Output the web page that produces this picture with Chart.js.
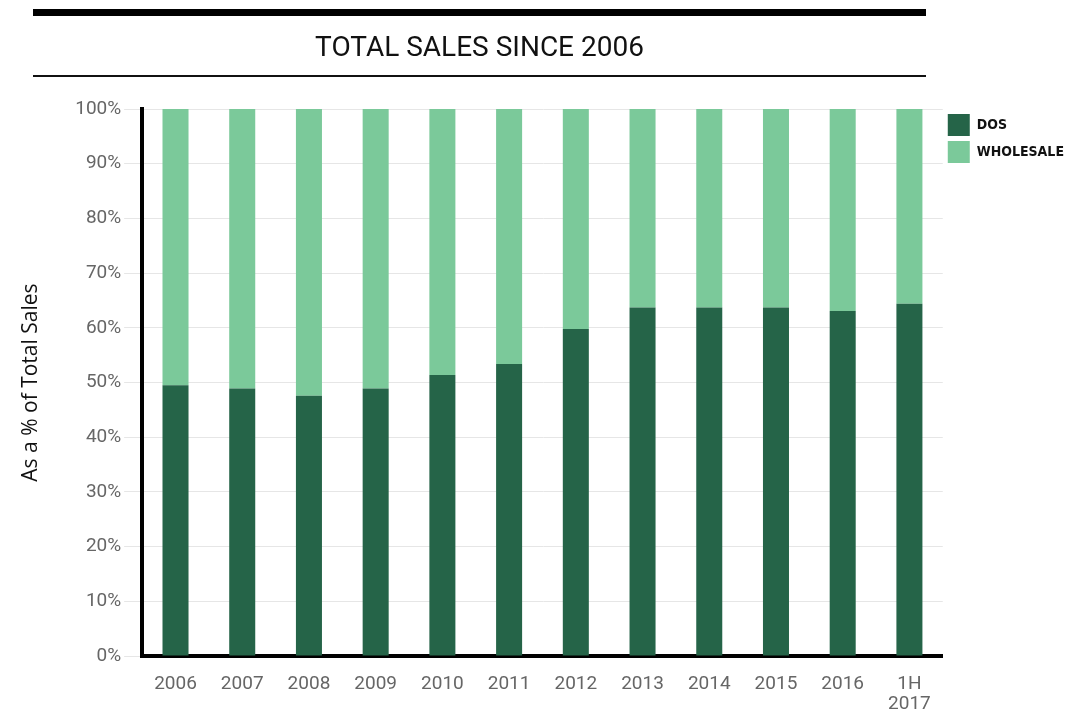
<!DOCTYPE html>
<html>
<head>
<meta charset="utf-8">
<script src="https://cdn.jsdelivr.net/npm/chart.js@4"></script>
<style>
  html, body { margin: 0; padding: 0; background: #fff; }
  #wrap { position: relative; width: 1082px; height: 715px; }
  #head {
    position: absolute; left: 33px; top: 9px; width: 893px; height: 56px;
    padding-top: 3px;
    border-top: 7px solid #000; border-bottom: 2px solid #111;
    text-align: center; font: 28px Roboto, sans-serif; line-height: 56px; color: #111;
  }
  canvas { position: absolute; left: 0; top: 0; }
</style>
</head>
<body>
<div id="wrap">
  <canvas id="sales-canvas" width="1082" height="715"></canvas>
  <div id="head">TOTAL SALES SINCE 2006</div>
</div>
<script>
// share of total sales (%)
const years = ["2006", "2007", "2008", "2009", "2010", "2011", "2012", "2013", "2014", "2015", "2016", ["1H", "2017"]];
const dosShare = [49.5, 48.9, 47.6, 48.9, 51.4, 53.4, 59.8, 63.7, 63.7, 63.7, 63.1, 64.4];
const wholesaleShare = [50.5, 51.1, 52.4, 51.1, 48.6, 46.6, 40.2, 36.3, 36.3, 36.3, 36.9, 35.6];
const yTicks = [0, 10, 20, 30, 40, 50, 60, 70, 80, 90, 100];

const salesCanvas = document.getElementById("sales-canvas");

const chart = new Chart(salesCanvas, {
    type: "bar",
    data: {
        labels: years,
        datasets: [{
            label: "DOS",
            data: dosShare,
            backgroundColor: "#256448",
            categoryPercentage: 1,
            barPercentage: 0.39
        }, {
            label: "WHOLESALE",
            data: wholesaleShare,
            backgroundColor: "#7bc99a",
            categoryPercentage: 1,
            barPercentage: 0.39
        }]
    },
    options: {
        responsive: false,
        animation: false,
        layout: {
            padding: { top: 109, left: 12, right: 8, bottom: -17 }
        },
        plugins: {
            legend: {
                position: "right",
                align: "start",
                fullSize: false,
                labels: {
                    boxWidth: 22,
                    boxHeight: 22,
                    padding: 5,
                    color: "#111",
                    font: { family: "'DejaVu Sans Condensed', sans-serif", size: 14, weight: "bold" }
                }
            },
            tooltip: { enabled: false }
        },
        scales: {
            x: {
                stacked: true,
                grid: { display: false, drawTicks: false },
                border: { display: true, color: "#000", width: 4 },
                ticks: {
                    color: "#666",
                    padding: 18,
                    maxRotation: 0,
                    autoSkip: false,
                    font: { family: "Roboto, sans-serif", size: 19, lineHeight: 1.05 }
                }
            },
            y: {
                stacked: true,
                min: 0,
                max: 100,
                afterBuildTicks: axis => { axis.ticks = yTicks.map(v => ({ value: v })); },
                grid: { color: "#e6e6e6", tickLength: 18, drawTicks: true },
                border: { display: true, color: "#000", width: 4 },
                ticks: {
                    color: "#666",
                    padding: 3,
                    callback: v => v + "%",
                    font: { family: "Roboto, sans-serif", size: 19 }
                },
                title: {
                    display: true,
                    text: "As a % of Total Sales",
                    color: "#111",
                    padding: { top: 6, bottom: 29 },
                    font: { family: "'Open Sans', sans-serif", size: 21 }
                }
            }
        }
    }
});
</script>
</body>
</html>
